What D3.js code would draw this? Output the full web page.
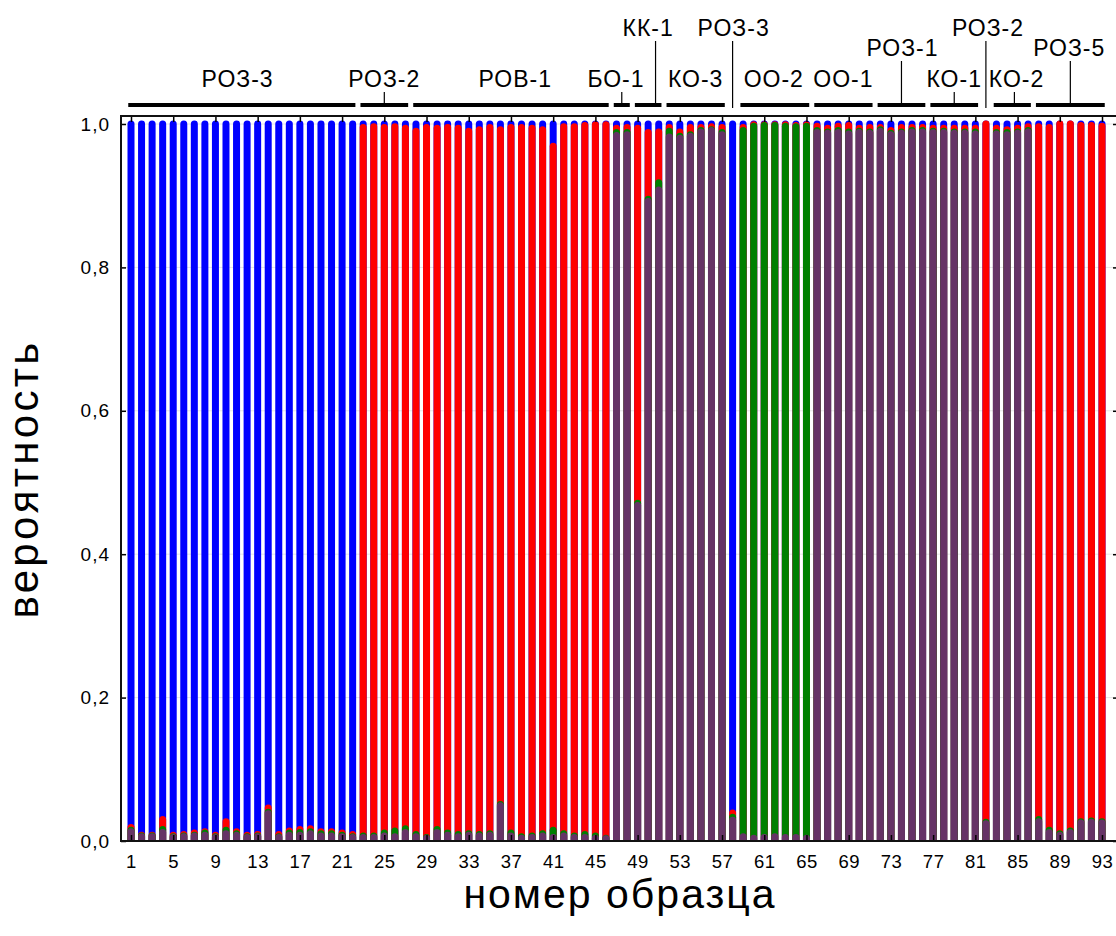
<!DOCTYPE html>
<html>
<head>
<meta charset="utf-8">
<script src="https://cdn.jsdelivr.net/npm/d3@7"></script>
<style>
  body { margin: 0; background: #fff; }
  svg { display: block; }
  text { font-family: "Liberation Sans", Arial, sans-serif; fill: #000; }
</style>
</head>
<body>
<svg id="chart" width="1116" height="936"></svg>
<script>
// Membership probabilities per sample (stack order bottom→top: purple, green, red, blue)
const purple = [
  .013,.006,.006,.012,.005,.006,.007,.008,.005,.010,
  .008,.005,.006,.038,.005,.008,.008,.010,.007,.007,
  .006,.005,
  .005,.005,.007,.006,.012,.006,.004,.012,.008,.006,
  .008,.007,.008,.049,.007,.004,.005,.007,.005,.007,
  .005,.005,.004,.003,
  .984,.985,.468,.892,.908,.982,.980,.983,.989,.991,.985,
  .029,
  .006,.004,.005,.006,.005,.005,.004,
  .988,.987,.988,.986,.988,.987,.990,.985,.987,.989,.989,.988,.988,.987,.987,.986,
  .024,
  .986,.985,.987,.989,
  .027,.012,.008,.012,.025,.026,.025
];
const green = [
  .002,.001,.001,.004,.001,.001,.001,.003,.001,.005,
  .002,.001,.001,.002,.001,.003,.004,.003,.003,.003,
  .002,.001,
  .002,.002,.004,.008,.005,.003,.001,.004,.003,.003,
  .002,.002,.002,.002,.004,.002,.002,.003,.010,.003,
  .002,.004,.003,.001,
  .004,.003,.003,.003,.010,.008,.003,.002,.002,.001,.003,
  .004,
  .985,.993,.993,.992,.992,.991,.993,
  .003,.002,.003,.003,.002,.002,.002,.002,.002,.002,.002,.002,.002,.002,.002,.003,
  .002,
  .002,.003,.002,.002,
  .003,.003,.002,.002,.002,.002,.002
];
const red = [
  .004,.001,.001,.014,.002,.002,.003,.002,.002,.012,
  .003,.002,.002,.006,.003,.003,.004,.004,.003,.003,
  .003,.003,
  .988,.989,.984,.982,.977,.981,.990,.978,.984,.985,
  .980,.983,.985,.941,.984,.989,.987,.982,.954,.986,
  .989,.989,.992,.995,
  .006,.007,.523,.093,.071,.005,.006,.010,.004,.004,.007,
  .006,
  .004,.002,.001,.001,.002,.002,.002,
  .006,.005,.006,.009,.004,.006,.003,.004,.006,.004,.004,.004,.004,.005,.005,.005,
  .974,
  .006,.004,.005,.005,
  .966,.980,.990,.986,.971,.970,.970
];
const blue = [
  .981,.992,.992,.970,.992,.991,.989,.987,.992,.973,
  .987,.992,.991,.954,.991,.986,.984,.983,.987,.987,
  .989,.991,
  .005,.004,.005,.004,.006,.010,.005,.006,.005,.006,
  .010,.008,.005,.008,.005,.005,.006,.008,.031,.004,
  .004,.002,.001,.001,
  .006,.005,.006,.012,.011,.005,.011,.005,.005,.004,.005,
  .961,
  .005,.001,.001,.001,.001,.002,.001,
  .003,.006,.003,.002,.006,.005,.005,.009,.005,.005,.005,.006,.006,.006,.006,.006,
  .000,
  .006,.008,.006,.004,
  .004,.005,.000,.000,.002,.002,.003
];

// Sample numbers and axis ticks
const samples = d3.range(1, 94);
const xTicks = d3.range(1, 94, 4);
const yTicks = [0, 0.2, 0.4, 0.6, 0.8, 1.0];

// Population groups above the plot
const groupLabels = ["РОЗ-3","РОЗ-2","РОВ-1","БО-1","КК-1","КО-3","РОЗ-3","ОО-2","ОО-1","РОЗ-1","КО-1","РОЗ-2","КО-2","РОЗ-5"];
const groupFirst  = [1, 23, 28, 47, 49, 52, 58, 59, 66, 72, 77, 82, 83, 87];
const groupLast   = [22, 27, 46, 48, 51, 57, 58, 65, 71, 76, 81, 82, 86, 93];
const groupTier   = [0, 0, 0, 0, 2, 0, 2, 0, 0, 1, 0, 2, 0, 1];
const groupLabelAt = [11.1, 25, 37.4, 46.95, 50.0, 54.5, 58.1, 61.9, 68.5, 74.1, 79, 82.2, 84.9, 89.9];
const groupStemAt  = [null, 25, null, 47.5, 50.7, null, 58, null, null, 74, 79, 82, 84.7, 90];

const colors = { purple: "#663366", green: "#008000", red: "#ff0000", blue: "#0000ff" };

const svg = d3.select("#chart");
const frame = { left: 121, right: 1118, top: 116, bottom: 841 };
const x = d3.scaleLinear().domain([1, 93]).range([131, 1102]);
const y = d3.scaleLinear().domain([0, 1]).range([frame.bottom, 124]);
const barW = 7;
const fmt = d3.formatLocale({ decimal: ",", thousands: " ", grouping: [3], currency: ["", ""] }).format(".1f");

// faint horizontal grid
svg.append("g").selectAll("line").data(yTicks.slice(1)).join("line")
  .attr("x1", frame.left).attr("x2", frame.right)
  .attr("y1", d => y(d)).attr("y2", d => y(d))
  .attr("stroke", "#e6e6e6").attr("stroke-width", 1);

// stacked bars: cumulative columns with rounded tops, drawn back to front
const rows = samples.map((s, i) => {
  const c1 = purple[i], c2 = c1 + green[i], c3 = c2 + red[i], c4 = c3 + blue[i];
  return { s, layers: [[c4, colors.blue], [c3, colors.red], [c2, colors.green], [c1, colors.purple]] };
});
function column(xc, v) {
  const r = barW / 2, x0 = xc - r, x1 = xc + r, yt = y(v), yb = y(0);
  return `M${x0},${yb}V${yt}A${r},${r} 0 0 1 ${x1},${yt}V${yb}Z`;
}
const barG = svg.append("g");
rows.forEach(row => {
  barG.selectAll(null).data(row.layers).join("path")
    .attr("d", d => column(x(row.s), d[0]))
    .attr("fill", d => d[1]);
});

// axes
const axisStyle = (size, spacing) => g => {
  g.select(".domain").remove();
  g.selectAll(".tick line").attr("stroke", "#000").attr("stroke-width", 1.5);
  g.selectAll(".tick text").attr("font-size", size).attr("letter-spacing", spacing).attr("fill", "#000")
    .attr("font-family", "'Liberation Sans', Arial, sans-serif");
};
svg.append("g").attr("transform", `translate(${frame.left},0)`)
  .call(d3.axisLeft(y).tickValues(yTicks).tickSize(-5).tickPadding(11).tickFormat(fmt))
  .call(axisStyle(19, 1));
svg.append("g").attr("transform", `translate(${frame.right},0)`)
  .call(d3.axisRight(y).tickValues(yTicks).tickSize(-5).tickFormat(""))
  .call(axisStyle(19, 0));
svg.append("g").attr("transform", `translate(0,${frame.bottom})`)
  .call(d3.axisBottom(x).tickValues(xTicks).tickSize(-6).tickPadding(14).tickFormat(d3.format("d")))
  .call(axisStyle(18.5, 0.5));
svg.append("g").attr("transform", `translate(0,${frame.top})`)
  .call(d3.axisTop(x).tickValues(xTicks).tickSize(-6).tickFormat(""))
  .call(axisStyle(18, 0));

// plot frame
svg.append("rect")
  .attr("x", frame.left).attr("y", frame.top)
  .attr("width", frame.right - frame.left).attr("height", frame.bottom - frame.top)
  .attr("fill", "none").attr("stroke", "#111").attr("stroke-width", 2);

// group brackets and labels
const tierBaseline = [87, 56, 36];
const lineY = 105;
const pad = 0.26;
const grp = svg.append("g");
groupLabels.forEach((lab, i) => {
  const a = groupFirst[i], b = groupLast[i];
  if (b > a) {
    grp.append("line")
      .attr("x1", x(a - pad)).attr("x2", x(b + pad))
      .attr("y1", lineY).attr("y2", lineY)
      .attr("stroke", "#000").attr("stroke-width", 4);
  }
  if (groupStemAt[i] !== null) {
    const sx = x(groupStemAt[i]);
    grp.append("line")
      .attr("x1", sx).attr("x2", sx)
      .attr("y1", tierBaseline[groupTier[i]] + 5)
      .attr("y2", b > a ? lineY : lineY + 3)
      .attr("stroke", "#000").attr("stroke-width", 1.2);
  }
  grp.append("text")
    .attr("x", x(groupLabelAt[i])).attr("y", tierBaseline[groupTier[i]])
    .attr("text-anchor", "middle").attr("font-size", 23).attr("letter-spacing", 1)
    .text(lab);
});

// axis titles
svg.append("text")
  .attr("transform", "translate(38,479) rotate(-90)")
  .attr("text-anchor", "middle").attr("font-size", 42).attr("letter-spacing", 3.3)
  .text("вероятность");
svg.append("text")
  .attr("x", 620).attr("y", 908)
  .attr("text-anchor", "middle").attr("font-size", 41).attr("letter-spacing", 2)
  .text("номер образца");
</script>
</body>
</html>
